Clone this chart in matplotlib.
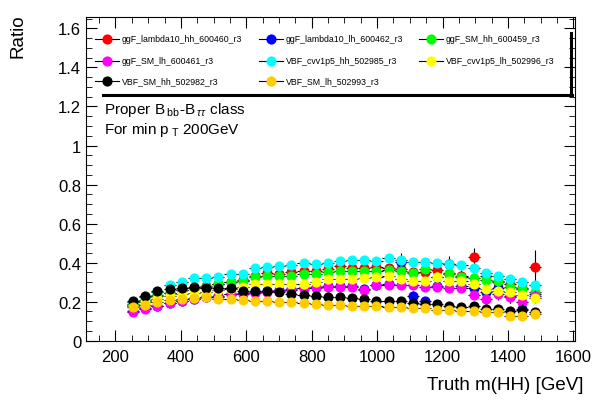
import numpy as np
import matplotlib.pyplot as plt
from matplotlib.lines import Line2D
from matplotlib.ticker import MultipleLocator

plt.rcParams['font.family'] = ['Liberation Sans', 'DejaVu Sans']
plt.rcParams['mathtext.fontset'] = 'custom'
plt.rcParams['mathtext.rm'] = 'Liberation Sans'
plt.rcParams['mathtext.it'] = 'Liberation Sans:italic'

# bin centres, truth m(HH) [GeV]
mhh = [254, 291, 328, 366, 403, 440, 477, 514, 552, 589, 626, 663, 700, 738, 775, 812, 849,
       886, 924, 961, 998, 1035, 1072, 1110, 1147, 1184, 1221, 1258, 1296, 1333, 1370, 1407, 1444, 1482]
half_bin = 18.6

names = ['ggF_lambda10_hh_600460_r3', 'ggF_lambda10_lh_600462_r3', 'ggF_SM_hh_600459_r3',
         'ggF_SM_lh_600461_r3', 'VBF_cvv1p5_hh_502985_r3', 'VBF_cvv1p5_lh_502996_r3',
         'VBF_SM_hh_502982_r3', 'VBF_SM_lh_502993_r3']
colors = ['#ff0000', '#0000ff', '#00ff00', '#ff00ff', '#00ffff', '#ffff00', '#000000', '#ffcc00']

ggF_l10_hh = [0.185, 0.205, 0.23, 0.245, 0.26, 0.272, 0.28, 0.29, 0.30, 0.31, 0.33, 0.345, 0.34, 0.35, 0.358, 0.359, 0.367,
              0.381, 0.37, 0.375, 0.38, 0.372, 0.365, 0.35, 0.35, 0.36, 0.34, 0.33, 0.427, 0.33, 0.30, 0.29, 0.27, 0.376]
ggF_l10_lh = [0.15, 0.165, 0.18, 0.195, 0.205, 0.215, 0.225, 0.23, 0.24, 0.245, 0.25, 0.255, 0.26, 0.265, 0.27, 0.275, 0.28,
              0.28, 0.28, 0.265, 0.285, 0.29, 0.405, 0.23, 0.205, 0.28, 0.393, 0.28, 0.27, 0.25, 0.27, 0.23, 0.16, 0.24]
ggF_SM_hh = [0.19, 0.21, 0.235, 0.245, 0.26, 0.27, 0.275, 0.29, 0.30, 0.308, 0.325, 0.33, 0.334, 0.334, 0.34, 0.342, 0.35,
             0.355, 0.358, 0.358, 0.358, 0.362, 0.358, 0.345, 0.367, 0.325, 0.345, 0.325, 0.32, 0.31, 0.308, 0.277, 0.265, 0.248]
ggF_SM_lh = [0.145, 0.162, 0.179, 0.192, 0.202, 0.214, 0.222, 0.225, 0.239, 0.239, 0.242, 0.248, 0.253, 0.26, 0.27, 0.27, 0.277,
             0.277, 0.277, 0.26, 0.283, 0.283, 0.283, 0.283, 0.277, 0.274, 0.27, 0.27, 0.236, 0.214, 0.239, 0.225, 0.197, 0.23]
VBF_cvv_hh = [0.20, 0.225, 0.25, 0.285, 0.30, 0.32, 0.32, 0.325, 0.342, 0.342, 0.372, 0.376, 0.384, 0.39, 0.396, 0.393, 0.396,
              0.41, 0.415, 0.415, 0.41, 0.422, 0.415, 0.405, 0.405, 0.40, 0.393, 0.388, 0.372, 0.345, 0.33, 0.316, 0.30, 0.285]
VBF_cvv_lh = [0.18, 0.2, 0.215, 0.23, 0.24, 0.242, 0.248, 0.26, 0.265, 0.277, 0.288, 0.29, 0.29, 0.29, 0.288, 0.30, 0.316,
              0.316, 0.316, 0.32, 0.325, 0.329, 0.316, 0.308, 0.308, 0.325, 0.308, 0.308, 0.29, 0.265, 0.256, 0.248, 0.235, 0.22]
VBF_SM_hh = [0.202, 0.23, 0.253, 0.265, 0.27, 0.274, 0.27, 0.27, 0.27, 0.256, 0.256, 0.256, 0.248, 0.239, 0.234, 0.23, 0.225,
             0.222, 0.219, 0.214, 0.202, 0.202, 0.202, 0.192, 0.19, 0.188, 0.179, 0.174, 0.179, 0.162, 0.162, 0.154, 0.157, 0.145]
VBF_SM_lh = [0.171, 0.185, 0.197, 0.208, 0.214, 0.219, 0.222, 0.214, 0.214, 0.208, 0.202, 0.202, 0.197, 0.197, 0.192, 0.188, 0.185,
             0.185, 0.179, 0.179, 0.179, 0.174, 0.174, 0.167, 0.167, 0.157, 0.157, 0.151, 0.154, 0.145, 0.145, 0.128, 0.128, 0.137]

# statistical errors
err_l10_hh = [0.005, 0.005, 0.005, 0.006, 0.006, 0.007, 0.007, 0.008, 0.008, 0.009, 0.009, 0.01, 0.01, 0.011, 0.012, 0.012, 0.013,
              0.014, 0.015, 0.016, 0.017, 0.018, 0.02, 0.02, 0.022, 0.025, 0.03, 0.03, 0.05, 0.03, 0.03, 0.035, 0.04, 0.09]
err_l10_lh = [0.005, 0.005, 0.005, 0.006, 0.006, 0.007, 0.007, 0.008, 0.008, 0.009, 0.009, 0.01, 0.01, 0.011, 0.012, 0.012, 0.013,
              0.014, 0.015, 0.016, 0.017, 0.018, 0.045, 0.025, 0.02, 0.025, 0.04, 0.03, 0.03, 0.03, 0.03, 0.035, 0.03, 0.04]
err_SM_hh = [0.004, 0.004, 0.004, 0.005, 0.005, 0.005, 0.006, 0.006, 0.007, 0.007, 0.008, 0.008, 0.009, 0.009, 0.01, 0.01, 0.011,
             0.012, 0.012, 0.013, 0.014, 0.015, 0.016, 0.017, 0.018, 0.02, 0.02, 0.022, 0.024, 0.026, 0.028, 0.03, 0.032, 0.035]
err_SM_lh = [0.004, 0.004, 0.004, 0.005, 0.005, 0.005, 0.006, 0.006, 0.007, 0.007, 0.008, 0.008, 0.009, 0.009, 0.01, 0.01, 0.011,
             0.012, 0.012, 0.013, 0.014, 0.015, 0.016, 0.017, 0.018, 0.02, 0.02, 0.022, 0.024, 0.026, 0.028, 0.03, 0.032, 0.035]
err_cvv_hh = [0.003, 0.003, 0.003, 0.004, 0.004, 0.004, 0.004, 0.005, 0.005, 0.005, 0.006, 0.006, 0.006, 0.007, 0.007, 0.008, 0.008,
              0.009, 0.009, 0.01, 0.01, 0.011, 0.012, 0.012, 0.013, 0.014, 0.015, 0.016, 0.017, 0.018, 0.019, 0.02, 0.022, 0.024]
err_cvv_lh = [0.003, 0.003, 0.003, 0.004, 0.004, 0.004, 0.004, 0.005, 0.005, 0.005, 0.006, 0.006, 0.006, 0.007, 0.007, 0.008, 0.008,
              0.009, 0.009, 0.01, 0.01, 0.011, 0.012, 0.012, 0.013, 0.014, 0.015, 0.016, 0.017, 0.018, 0.019, 0.02, 0.022, 0.024]
err_SM_vbf_hh = [0.003, 0.003, 0.003, 0.004, 0.004, 0.004, 0.004, 0.005, 0.005, 0.005, 0.006, 0.006, 0.006, 0.007, 0.007, 0.008, 0.008,
                 0.009, 0.009, 0.01, 0.01, 0.011, 0.012, 0.012, 0.013, 0.014, 0.015, 0.016, 0.017, 0.018, 0.019, 0.02, 0.03, 0.022]
err_SM_vbf_lh = [0.003, 0.003, 0.003, 0.004, 0.004, 0.004, 0.004, 0.005, 0.005, 0.005, 0.006, 0.006, 0.006, 0.007, 0.007, 0.008, 0.008,
                 0.009, 0.009, 0.01, 0.01, 0.011, 0.012, 0.012, 0.013, 0.014, 0.015, 0.016, 0.017, 0.018, 0.019, 0.02, 0.02, 0.022]

values = [ggF_l10_hh, ggF_l10_lh, ggF_SM_hh, ggF_SM_lh, VBF_cvv_hh, VBF_cvv_lh, VBF_SM_hh, VBF_SM_lh]
errors = [err_l10_hh, err_l10_lh, err_SM_hh, err_SM_lh, err_cvv_hh, err_cvv_lh, err_SM_vbf_hh, err_SM_vbf_lh]

W, H = 597, 402
fig = plt.figure(figsize=(W / 100, H / 100), dpi=100)
ax = fig.add_axes([86 / W, 1 - 341.7 / H, (575 - 86) / W, (341.7 - 18.3) / H])

for k in range(len(values)):
    ax.errorbar(mhh, values[k], yerr=errors[k], xerr=half_bin, fmt='o', ms=6.3, mfc=colors[k], mec=colors[k],
                ecolor='black', elinewidth=0.8, capsize=0, zorder=3 + k)

ax.set_xlim(110, 1605)
ax.set_ylim(0, 1.657)
ax.xaxis.set_major_locator(MultipleLocator(200))
ax.xaxis.set_minor_locator(MultipleLocator(50))
ax.yaxis.set_major_locator(MultipleLocator(0.2))
ax.yaxis.set_minor_locator(MultipleLocator(0.05))
ax.yaxis.set_major_formatter(plt.FuncFormatter(lambda v, p: f'{v:g}'))
ax.tick_params(which='both', direction='in', top=True, right=True, labelsize=12)
ax.tick_params(which='major', length=8)
ax.tick_params(which='minor', length=4)
ax.tick_params(axis='x', pad=6)
ax.set_xlabel('Truth m(HH) [GeV]', fontsize=13.5, ha='right')
ax.xaxis.set_label_coords(1.017, -0.11)


# legend box (ROOT style, drawn by hand)
def px(x, y):
    return x / W, 1 - y / H


fig.text(*px(9, 14), 'Ratio', rotation=90, ha='left', va='top', fontsize=13.5)

rows = [40, 61.5, 82]
cols = [107, 271, 431]
for k, name in enumerate(names):
    r, c = divmod(k, 3)
    mx, my = cols[c], rows[r]
    (x0, y0), (x1, _) = px(mx - 12, my), px(mx + 12, my)
    fig.add_artist(Line2D([x0, x1], [y0, y0], color='black', lw=0.8, transform=fig.transFigure))
    fig.add_artist(Line2D([px(mx, my)[0]] * 2, [px(mx, my - 4)[1], px(mx, my + 4)[1]], color='black', lw=0.8,
                          transform=fig.transFigure))
    fig.add_artist(Line2D([px(mx, my)[0]], [y0], marker='o', ms=6.3, mfc=colors[k], mec=colors[k], ls='none',
                          transform=fig.transFigure))
    fig.text(*px(mx + 15, my), name, fontsize=6.3, va='center', ha='left')

fig.add_artist(Line2D([px(103, 0)[0], px(572, 0)[0]], [px(0, 96)[1]] * 2, color='black', lw=2.2,
                      transform=fig.transFigure))
fig.add_artist(Line2D([px(571, 0)[0]] * 2, [px(0, 34)[1], px(0, 96)[1]], color='black', lw=2.2,
                      transform=fig.transFigure))

fig.text(*px(104, 110), r'Proper B$_{\;\mathrm{bb}}$-B$_{\;\tau\tau}$ class', fontsize=11, va='center')
fig.text(*px(104, 130), r'For min p$_{\;\mathrm{T}}$ 200GeV', fontsize=11, va='center')

fig.savefig('out.png', dpi=100)
